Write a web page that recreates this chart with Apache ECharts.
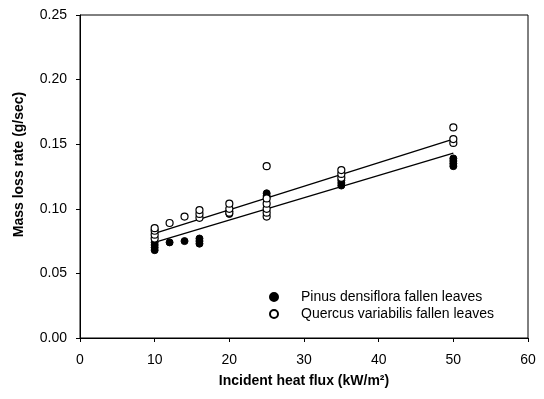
<!DOCTYPE html>
<html>
<head>
<meta charset="utf-8">
<script src="https://cdn.jsdelivr.net/npm/echarts@6/dist/echarts.min.js"></script>
<style>html,body{margin:0;padding:0;background:#fff}#c{width:544px;height:399px}</style>
</head>
<body>
<div id="c"></div>
<script>
const xTicks = [0, 10, 20, 30, 40, 50, 60];
const yTicks = ['0.00', '0.05', '0.10', '0.15', '0.20', '0.25'];

const pinusFlux = [10, 10, 10, 10, 12, 14, 16, 16, 16, 20, 20, 25, 25, 35, 35, 35, 50, 50, 50, 50];
const pinusRate = [0.068, 0.070, 0.072, 0.074, 0.074, 0.075, 0.073, 0.075, 0.077, 0.096, 0.098, 0.110, 0.112, 0.118, 0.120, 0.122, 0.133, 0.135, 0.137, 0.139];

const quercusFlux = [10, 10, 10, 10, 12, 14, 16, 16, 16, 20, 20, 20, 25, 25, 25, 25, 25, 25, 35, 35, 35, 50, 50, 50];
const quercusRate = [0.077, 0.080, 0.083, 0.085, 0.089, 0.094, 0.093, 0.096, 0.099, 0.097, 0.100, 0.104, 0.094, 0.097, 0.100, 0.104, 0.108, 0.133, 0.124, 0.127, 0.130, 0.151, 0.154, 0.163];

const pinusFitX = [10, 50];
const pinusFitY = [0.074, 0.143];
const quercusFitX = [10, 50];
const quercusFitY = [0.081, 0.154];

const zip = (a, b) => a.map((v, i) => [v, b[i]]);
const font = 'Liberation Sans, Arial, sans-serif';

const chart = echarts.init(document.getElementById('c'), null, {renderer: 'canvas'});
chart.setOption({
  animation: false,
  backgroundColor: '#fff',
  grid: {left: 80, right: 16, top: 15, bottom: 61, show: true, borderColor: '#000', borderWidth: 1},
  legend: {
    orient: 'vertical', left: 264, top: 285, itemWidth: 8, itemHeight: 8, itemGap: 3,
    textStyle: {fontFamily: font, fontSize: 14, color: '#000', padding: [0, 0, 0, 18]},
    data: ['Pinus densiflora fallen leaves', 'Quercus variabilis fallen leaves']
  },
  xAxis: {
    type: 'value', min: xTicks[0], max: xTicks[xTicks.length - 1], interval: 10,
    name: 'Incident heat flux (kW/m²)', nameLocation: 'middle', nameGap: 36,
    nameTextStyle: {fontFamily: font, fontSize: 14, fontWeight: 'bold', color: '#000'},
    axisLine: {lineStyle: {color: '#000', width: 1}},
    axisTick: {show: true, inside: false, length: 4, lineStyle: {color: '#000'}},
    axisLabel: {fontFamily: font, fontSize: 14, color: '#000', margin: 15},
    splitLine: {show: false}
  },
  yAxis: {
    type: 'value', min: 0, max: 0.25, interval: 0.05,
    name: 'Mass loss rate (g/sec)', nameLocation: 'middle', nameGap: 54, nameRotate: 90,
    nameTextStyle: {fontFamily: font, fontSize: 14, fontWeight: 'bold', color: '#000', padding: [0, 0, 0, 24]},
    axisLine: {lineStyle: {color: '#000', width: 1}},
    axisTick: {show: true, inside: false, length: 4, lineStyle: {color: '#000'}},
    axisLabel: {fontFamily: font, fontSize: 14, color: '#000', margin: 13,
      formatter: (v) => yTicks[Math.round(v / 0.05)]},
    splitLine: {show: false}
  },
  series: [
    {
      name: 'Pinus densiflora fallen leaves', type: 'scatter', symbol: 'circle', symbolSize: 7,
      itemStyle: {color: '#000', borderColor: '#000', borderWidth: 1, opacity: 1},
      data: zip(pinusFlux, pinusRate), z: 3
    },
    {
      name: 'Quercus variabilis fallen leaves', type: 'scatter', symbol: 'circle', symbolSize: 7,
      itemStyle: {color: '#fff', borderColor: '#000', borderWidth: 1.2, opacity: 1},
      data: zip(quercusFlux, quercusRate), z: 4
    },
    {
      name: 'Pinus fit', type: 'line', symbol: 'none', silent: true,
      lineStyle: {color: '#000', width: 1.3},
      data: zip(pinusFitX, pinusFitY), z: 2
    },
    {
      name: 'Quercus fit', type: 'line', symbol: 'none', silent: true,
      lineStyle: {color: '#000', width: 1.3},
      data: zip(quercusFitX, quercusFitY), z: 2
    }
  ]
});
</script>
</body>
</html>
